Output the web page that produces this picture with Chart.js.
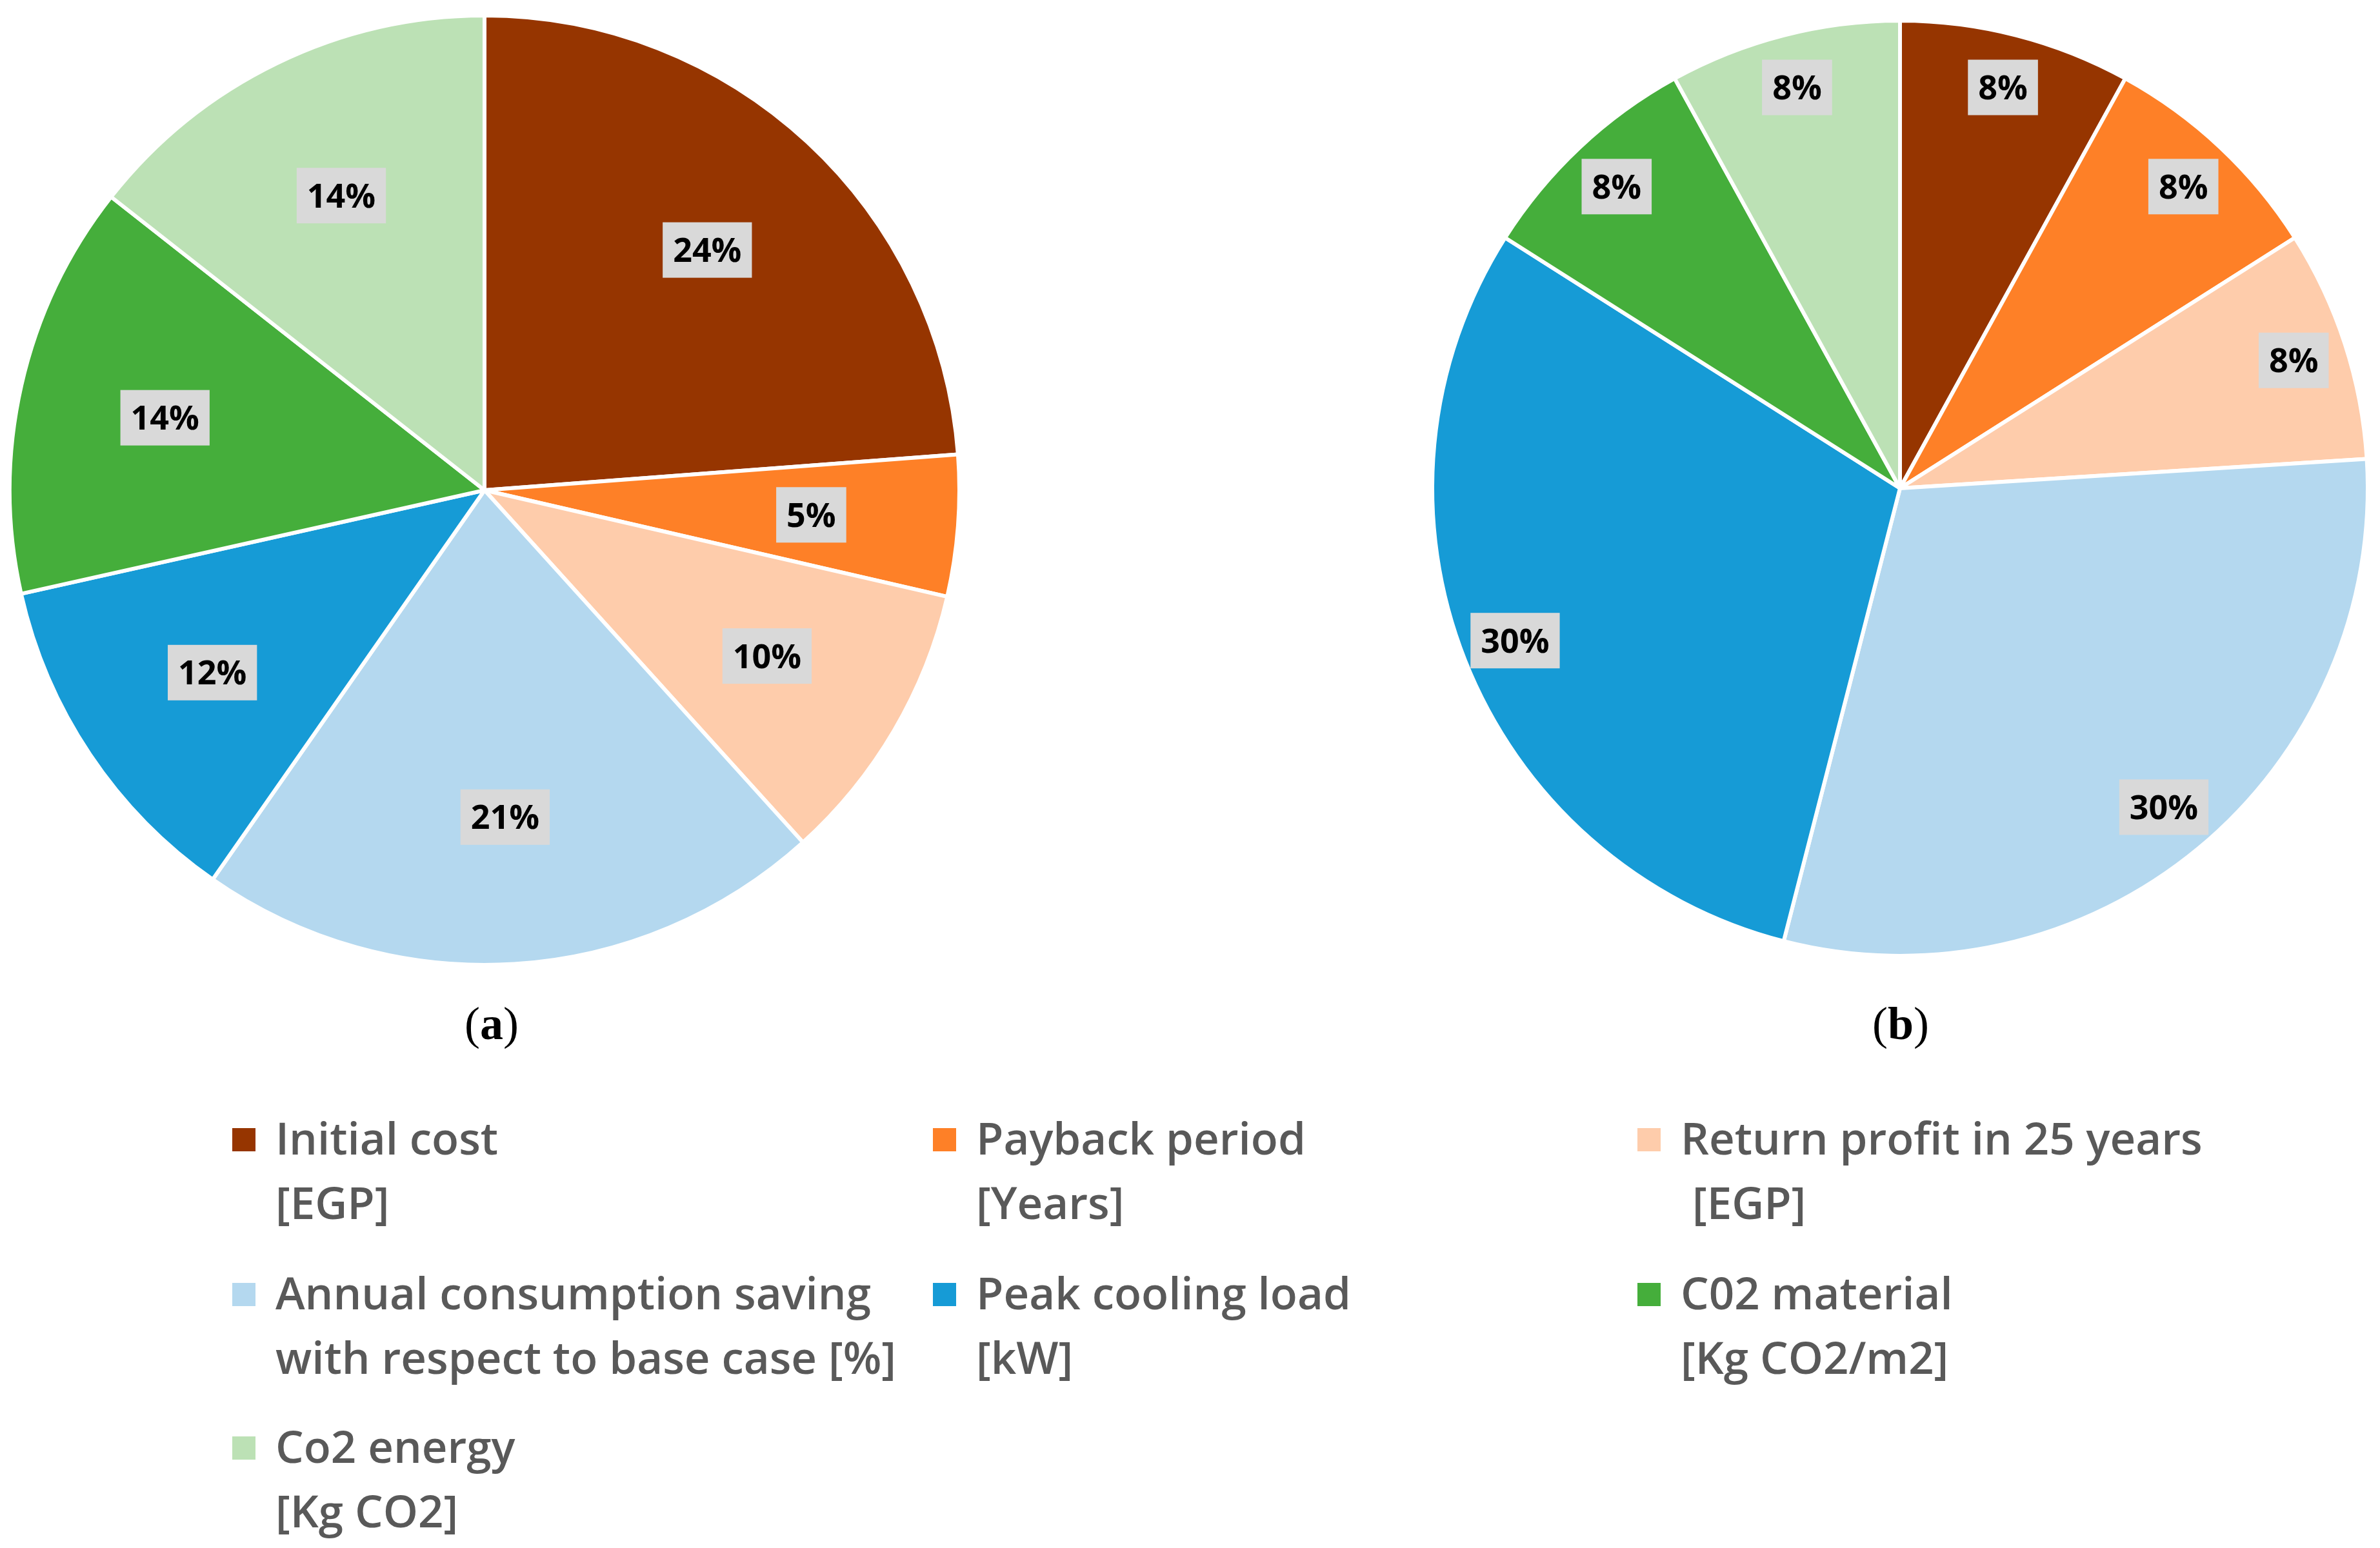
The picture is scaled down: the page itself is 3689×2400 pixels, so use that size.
<!DOCTYPE html>
<html>
<head>
<meta charset="utf-8">
<script src="https://cdn.jsdelivr.net/npm/chart.js@4.4.1/dist/chart.umd.min.js"></script>
<style>
  html, body { margin:0; padding:0; background:#fff; }
  body { width:3689px; height:2400px; position:relative; overflow:hidden; }
  .pie { position:absolute; width:1490px; height:1490px; }
  .cap { position:absolute; width:300px; text-align:center; font-family:"Liberation Serif","Times New Roman",serif; font-size:72px; line-height:72px; color:#000; }
  .cap b { font-weight:bold; }
  .leg { position:absolute; font-family:"Open Sans",sans-serif; font-weight:600; font-size:69px; line-height:100px; color:#595959; white-space:pre; }
  .mk { position:absolute; width:36px; height:36px; }
</style>
</head>
<body>
<div class="pie" id="boxA" style="left:6px; top:15px;"><canvas id="pieA"></canvas></div>
<div class="pie" id="boxB" style="left:2200px; top:12px;"><canvas id="pieB"></canvas></div>
<div class="cap" style="left:612px; top:1551px;">(<b>a</b>)</div>
<div class="cap" style="left:2796px; top:1551px;">(<b>b</b>)</div>
<div id="legend"></div>
<script>
// ---- data ----
const categories = [
  "Initial cost\n[EGP]",
  "Payback period\n[Years]",
  "Return profit in 25 years\n [EGP]",
  "Annual consumption saving\nwith respect to base case [%]",
  "Peak cooling load\n[kW]",
  "C02 material\n[Kg CO2/m2]",
  "Co2 energy\n[Kg CO2]"
];
const valuesA = [23.8, 4.8, 9.7, 21.4, 11.8, 14.1, 14.4];
const valuesB = [8, 8, 8, 30, 30, 8, 8];
const colors = ["#963500", "#FE8027", "#FECCAB", "#B4D8EF", "#169BD6", "#45AE3B", "#BCE1B5"];

// ---- percentage label plugin (Excel-style grey boxes) ----
const pctLabels = {
  id: 'pctLabels',
  afterDatasetsDraw(chart, args, opts) {
    const ctx = chart.ctx;
    const meta = chart.getDatasetMeta(0);
    const data = chart.data.datasets[0].data;
    const total = data.reduce((a, b) => a + b, 0);
    const fs = opts.fontSize;
    ctx.save();
    ctx.font = 'bold ' + fs + 'px "Open Sans", sans-serif';
    ctx.textAlign = 'center';
    ctx.textBaseline = 'alphabetic';
    meta.data.forEach((arc, i) => {
      const p = arc.getProps(['x', 'y', 'startAngle', 'endAngle', 'outerRadius'], true);
      const mid = (p.startAngle + p.endAngle) / 2;
      const r = p.outerRadius * opts.frac;
      const cx = p.x + Math.cos(mid) * r;
      const cy = p.y + Math.sin(mid) * r;
      const txt = Math.round(data[i] / total * 100) + '%';
      const w = ctx.measureText(txt).width + 2 * opts.padX;
      const h = opts.boxH;
      ctx.fillStyle = '#D9D9D9';
      ctx.fillRect(cx - w / 2, cy - h / 2, w, h);
      ctx.fillStyle = '#000';
      ctx.fillText(txt, cx, cy + fs * 0.714 / 2);
    });
    ctx.restore();
  }
};

function makePie(id, values, radius, frac) {
  return new Chart(document.getElementById(id), {
    type: 'pie',
    data: {
      labels: categories.map(c => c.replace('\n', ' ')),
      datasets: [{
        data: values,
        backgroundColor: colors,
        borderColor: '#ffffff',
        borderWidth: 6,
        hoverOffset: 0
      }]
    },
    options: {
      responsive: true,
      maintainAspectRatio: false,
      animation: false,
      events: [],
      radius: radius,
      layout: { padding: 0 },
      plugins: {
        legend: { display: false },
        tooltip: { enabled: false },
        pctLabels: { frac: frac, fontSize: 52, padX: 16, boxH: 86 }
      }
    },
    plugins: [pctLabels]
  });
}

// ---- legend (HTML) ----
const legCols = [360, 1446, 2538];
const legRows = [1713, 1953, 2191];
const leg = document.getElementById('legend');
categories.forEach((c, i) => {
  const col = i % 3, row = Math.floor(i / 3);
  const mk = document.createElement('div');
  mk.className = 'mk';
  mk.style.left = legCols[col] + 'px';
  mk.style.top = (legRows[row] + 36) + 'px';
  mk.style.background = colors[i];
  leg.appendChild(mk);
  const t = document.createElement('div');
  t.className = 'leg';
  t.style.left = (legCols[col] + 67) + 'px';
  t.style.top = legRows[row] + 'px';
  t.textContent = c;
  leg.appendChild(t);
});

function build() {
  makePie('pieA', valuesA, 736, 0.69);
  makePie('pieB', valuesB, 725, 0.885);
}
if (document.fonts && document.fonts.load) {
  Promise.all([
    document.fonts.load('bold 52px "Open Sans"'),
    document.fonts.load('600 69px "Open Sans"')
  ]).then(build, build);
} else {
  build();
}
</script>
</body>
</html>
